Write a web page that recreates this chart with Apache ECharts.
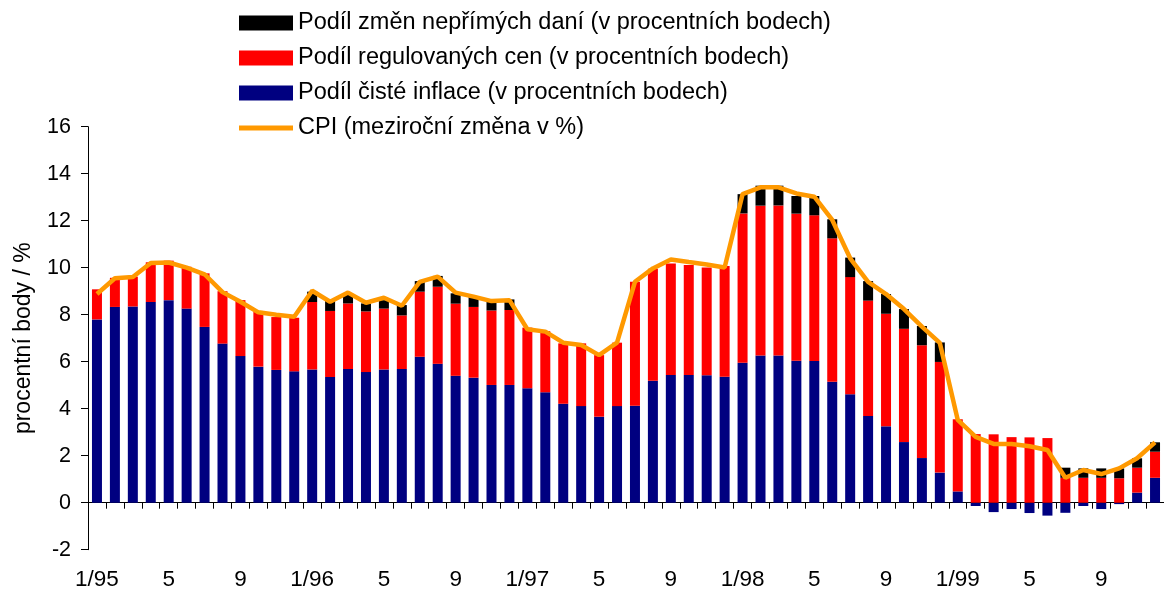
<!DOCTYPE html>
<html>
<head>
<meta charset="utf-8">
<script src="https://cdn.jsdelivr.net/npm/echarts@6/dist/echarts.min.js"></script>
<style>
html,body{margin:0;padding:0;background:#fff;}
#c{width:1164px;height:593px;}
</style>
</head>
<body>
<div id="c"></div>
<script>
var years = ['95','96','97','98','99'];
var categories = [];
years.forEach(function(y){ for (var m = 1; m <= 12; m++) categories.push(m + '/' + y); });

var pureInflation = [
 7.80, 8.33, 8.35, 8.54, 8.62, 8.26, 7.48, 6.77, 6.24, 5.79, 5.65, 5.59,
 5.67, 5.35, 5.69, 5.56, 5.67, 5.69, 6.21, 5.91, 5.40, 5.32, 5.01, 5.01,
 4.87, 4.70, 4.21, 4.11, 3.66, 4.11, 4.13, 5.19, 5.43, 5.43, 5.42, 5.36,
 5.96, 6.26, 6.26, 6.04, 6.03, 5.15, 4.61, 3.69, 3.25, 2.58, 1.90, 1.28,
 0.48, -0.14, -0.40, -0.27, -0.44, -0.55, -0.43, -0.14, -0.27, -0.06, 0.43, 1.06
];
var regulatedPrices = [
 1.28, 1.24, 1.27, 1.69, 1.68, 1.78, 2.28, 2.23, 2.38, 2.37, 2.25, 2.28,
 2.87, 2.81, 2.79, 2.58, 2.59, 2.28, 2.77, 3.28, 3.07, 3.01, 3.17, 3.19,
 2.58, 2.60, 2.57, 2.67, 2.62, 2.70, 5.27, 4.77, 4.75, 4.68, 4.59, 4.71,
 6.35, 6.38, 6.39, 6.26, 6.20, 6.10, 4.99, 4.91, 4.79, 4.82, 4.80, 4.71,
 3.07, 2.92, 2.91, 2.79, 2.78, 2.75, 1.06, 1.06, 1.06, 1.04, 1.06, 1.11
];
var indirectTaxes = [
 0, 0, 0, 0, 0, 0, 0, 0, 0, 0, 0, 0,
 0.44, 0.46, 0.40, 0.34, 0.36, 0.44, 0.45, 0.46, 0.44, 0.44, 0.44, 0.45,
 0, 0, 0, 0, 0, 0, 0, 0, 0, 0, 0, 0,
 0.82, 0.85, 0.84, 0.75, 0.82, 0.81, 0.83, 0.83, 0.84, 0.84, 0.82, 0.83,
 0, 0, 0, 0, 0, 0, 0.43, 0.40, 0.40, 0.42, 0.40, 0.40
];
var cpi = [
 8.88, 9.55, 9.60, 10.20, 10.22, 10.00, 9.72, 8.96, 8.55, 8.10, 8.00, 7.91,
 9.02, 8.55, 8.94, 8.51, 8.72, 8.38, 9.40, 9.62, 8.94, 8.77, 8.58, 8.62,
 7.38, 7.28, 6.81, 6.71, 6.28, 6.81, 9.40, 9.97, 10.35, 10.24, 10.14, 10.01,
 13.13, 13.42, 13.42, 13.16, 13.02, 12.03, 10.40, 9.40, 8.88, 8.24, 7.49, 6.80,
 3.52, 2.80, 2.50, 2.50, 2.40, 2.24, 1.06, 1.39, 1.22, 1.46, 1.89, 2.57
];
var seriesNames = [
 'Podíl změn nepřímých daní (v procentních bodech)',
 'Podíl regulovaných cen (v procentních bodech)',
 'Podíl čisté inflace (v procentních bodech)',
 'CPI (meziroční změna v %)'
];
var yAxisName = 'procentní body / %';

var FONT = "'Liberation Sans', Arial, sans-serif";
var chart = echarts.init(document.getElementById('c'), null, {renderer: 'canvas'});
chart.setOption({
  animation: false,
  backgroundColor: '#ffffff',
  textStyle: {fontFamily: FONT, color: '#000'},
  legend: {
    orient: 'vertical',
    left: 234,
    top: 6,
    itemWidth: 54,
    itemHeight: 15,
    itemGap: 11,
    textStyle: {fontFamily: FONT, fontSize: 23.5, color: '#000'},
    data: [
      {name: seriesNames[0], icon: 'rect'},
      {name: seriesNames[1], icon: 'rect'},
      {name: seriesNames[2], icon: 'rect'},
      {name: seriesNames[3], icon: 'path://M0,0H54V5H0Z', itemStyle: {color: '#ff9900'}}
    ]
  },
  grid: {left: 88, top: 126.7, width: 1080, height: 423, containLabel: false},
  xAxis: [
    {
      type: 'category', data: categories, position: 'bottom',
      axisLine: {onZero: true, lineStyle: {color: '#000', width: 1}},
      axisTick: {show: true, interval: 0, length: 6, lineStyle: {color: '#000'}},
      axisLabel: {show: false}
    },
    {
      type: 'category', data: categories, position: 'bottom',
      axisLine: {show: false, onZero: false},
      axisTick: {show: false},
      axisLabel: {
        show: true, interval: 3, margin: 19, fontSize: 22.5, fontFamily: FONT, color: '#000',
        formatter: function (v, i) {
          var m = i % 12;
          return m === 0 ? v : String(m + 1);
        }
      }
    }
  ],
  yAxis: {
    type: 'value', min: -2, max: 16, interval: 2,
    name: yAxisName, nameLocation: 'middle', nameGap: 53, nameRotate: 90,
    nameTextStyle: {fontFamily: FONT, fontSize: 23, color: '#000'},
    axisLine: {show: true, lineStyle: {color: '#000', width: 1}},
    axisTick: {show: true, length: 7, lineStyle: {color: '#000'}},
    axisLabel: {fontSize: 21.5, fontFamily: FONT, color: '#000', margin: 17},
    splitLine: {show: false}
  },
  series: [
    {name: seriesNames[2], type: 'bar', stack: 'a', data: pureInflation, barWidth: 10, itemStyle: {color: '#000080'}},
    {name: seriesNames[1], type: 'bar', stack: 'a', data: regulatedPrices, barWidth: 10, itemStyle: {color: '#ff0000'}},
    {name: seriesNames[0], type: 'bar', stack: 'a', data: indirectTaxes, barWidth: 10, itemStyle: {color: '#000000'}},
    {name: seriesNames[3], type: 'line', data: cpi, symbol: 'none', showSymbol: false, z: 5,
     lineStyle: {color: '#ff9900', width: 4.5}, itemStyle: {color: '#ff9900'}}
  ]
});
</script>
</body>
</html>
